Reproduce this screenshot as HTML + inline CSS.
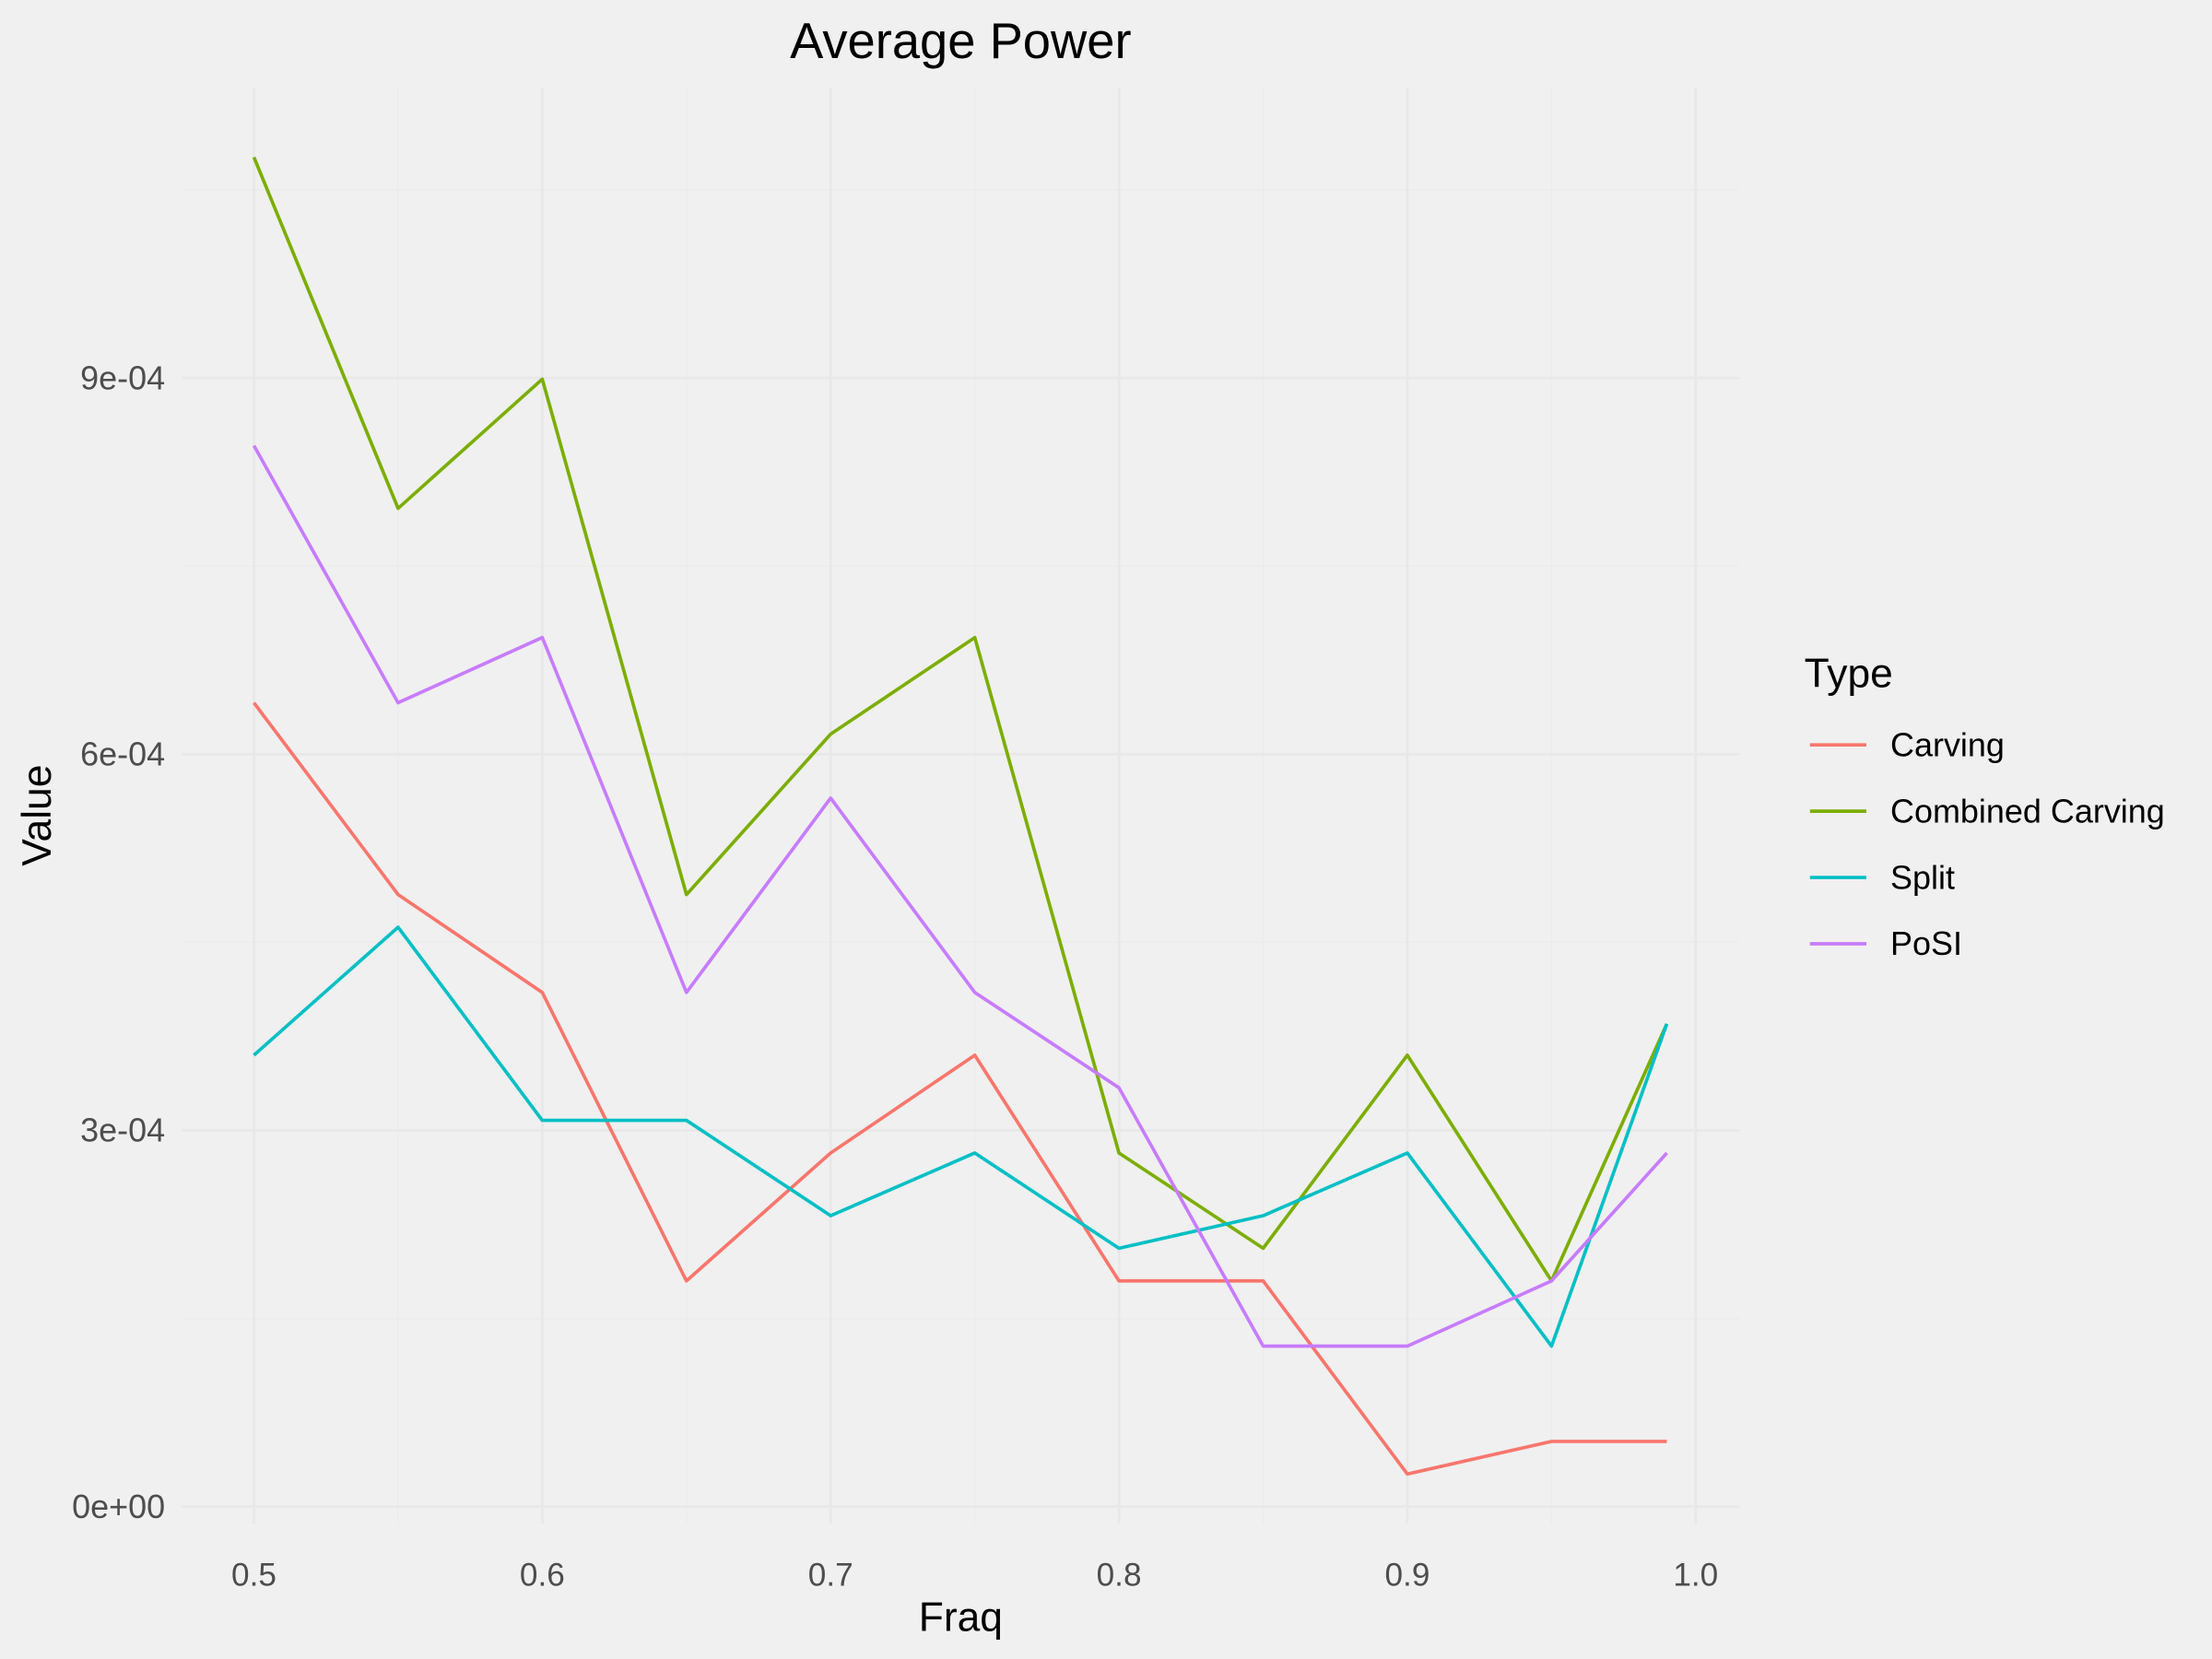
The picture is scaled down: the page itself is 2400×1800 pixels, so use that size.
<!DOCTYPE html>
<html><head><meta charset="utf-8"><style>
html,body{margin:0;padding:0;background:#f0f0f0;}
svg{display:block;font-family:"Liberation Sans",Arial,sans-serif;}
</style></head><body>
<svg id="chart" width="2400" height="1800" viewBox="0 0 1568 1176" xmlns="http://www.w3.org/2000/svg">
<rect width="1568" height="1176" fill="#f0f0f0"/>
<g id="grid"></g>
<g id="lines"></g>
<g id="axes"></g>
<text x="681" y="41" text-anchor="middle" font-size="35.5" fill="#000">Average Power</text>
<text x="681" y="1156" text-anchor="middle" font-size="29" fill="#000">Fraq</text>
<text transform="translate(36,578) rotate(-90)" text-anchor="middle" font-size="29" fill="#000">Value</text>
<g id="legend">
<text x="1279" y="487" font-size="29" fill="#000">Type</text>
</g>
</svg>
<script>
const xs = [0.5,0.55,0.6,0.65,0.7,0.75,0.8,0.85,0.9,0.95,0.99];
const seriesNames = ["Carving","Combined Carving","Split","PoSI"];
const seriesColors = ["#F8766D","#7CAE00","#00BFC4","#C77CFF"];
const carving = [6.41,4.88,4.10,1.80,2.82,3.60,1.80,1.80,0.26,0.52,0.52];
const combined = [10.76,7.96,8.99,4.88,6.16,6.93,2.82,2.06,3.60,1.80,3.85];
const split = [3.60,4.62,3.08,3.08,2.32,2.82,2.06,2.32,2.82,1.28,3.85];
const posi = [8.46,6.41,6.93,4.10,5.65,4.10,3.34,1.28,1.28,1.80,2.82];
const yTicks = [0,3,6,9];
const yTickLabels = ["0e+00","3e-04","6e-04","9e-04"];
const xTicks = [0.5,0.6,0.7,0.8,0.9,1.0];
const xTickLabels = ["0.5","0.6","0.7","0.8","0.9","1.0"];
const NS="http://www.w3.org/2000/svg";
const X = v => 180 + (v-0.5)*2044;
const Y = v => 1068 - v*(266.7/3);
const grid=document.getElementById('grid'), axes=document.getElementById('axes'), lines=document.getElementById('lines'), legend=document.getElementById('legend');
function mk(tag,attrs,parent){const e=document.createElementNS(NS,tag);for(const k in attrs)e.setAttribute(k,attrs[k]);parent.appendChild(e);return e;}
const L=129,R=1233,T=62,B=1080;
[0.55,0.65,0.75,0.85,0.95].forEach(v=>{const l=mk('line',{x1:X(v),x2:X(v),y1:T,y2:B,stroke:'#ececec','stroke-width':1},grid);

});
[1.5,4.5,7.5,10.5].forEach(v=>{const l=mk('line',{x1:L,x2:R,y1:Y(v),y2:Y(v),stroke:'#ececec','stroke-width':1},grid);

});
xTicks.forEach((v,i)=>{const l=mk('line',{x1:X(v),x2:X(v),y1:T,y2:B,stroke:'#e8e8e8','stroke-width':1.8},grid);


const t=mk('text',{x:X(v),y:1124,'text-anchor':'middle','font-size':23,fill:'#4d4d4d'},axes);t.textContent=xTickLabels[i];

});
yTicks.forEach((v,i)=>{const l=mk('line',{x1:L,x2:R,y1:Y(v),y2:Y(v),stroke:'#e8e8e8','stroke-width':1.8},grid);


const t=mk('text',{x:117,y:Y(v)+8,'text-anchor':'end','font-size':23.5,fill:'#4d4d4d'},axes);t.textContent=yTickLabels[i];

});
const allSeries=[carving,combined,split,posi];
allSeries.forEach((s,si)=>{const p=mk('polyline',{points:s.map((v,i)=>X(xs[i])+','+Y(v)).join(' '),fill:'none',stroke:seriesColors[si],'stroke-width':2.4,'stroke-linejoin':'round'},lines);


const y=528+si*47;
const ll=mk('line',{x1:1283,x2:1323,y1:y,y2:y,stroke:seriesColors[si],'stroke-width':2.4},legend);


const t=mk('text',{x:1340,y:y+8,'font-size':23.5,fill:'#000'},legend);t.textContent=seriesNames[si];

});
</script>
</body></html>
